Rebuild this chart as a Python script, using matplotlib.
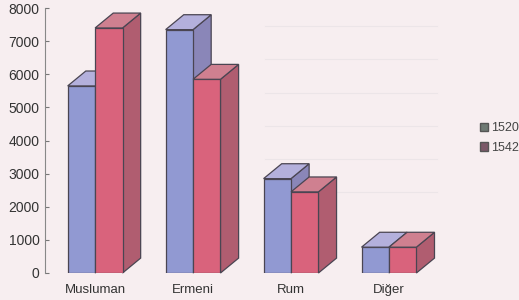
import matplotlib.pyplot as plt
from matplotlib.patches import Polygon, Patch
import numpy as np

# Nüfus verileri
kategoriler = ['Musluman', 'Ermeni', 'Rum', 'Diğer']
yil_1520 = [5650, 7350, 2850, 780]
yil_1542 = [7400, 5850, 2450, 780]
yillar = ['1520', '1542']

plt.rcParams['font.family'] = ['Liberation Sans', 'DejaVu Sans']

renk_on = {'1520': '#9199d2', '1542': '#d9637c'}
renk_ust = {'1520': '#b4b0dc', '1542': '#cf8090'}
renk_yan = {'1520': '#8a86b8', '1542': '#b05d70'}
kenar = '#4a4552'

fig = plt.figure(figsize=(5.19, 3.0), dpi=100, facecolor='#f7eef0')
ax = fig.add_axes([0.087, 0.09, 0.77, 0.883])
ax.set_facecolor('#f7eef0')

x = np.arange(len(kategoriler))
w = 0.28
dx = 0.185
dy = 450

def kutu(ax, x0, h, seri, z):
    # ön yüz
    ax.bar(x0, h, width=w, align='edge', color=renk_on[seri], edgecolor=kenar,
           linewidth=0.9, zorder=z)
    # üst yüz
    ust = Polygon([(x0, h), (x0 + w, h), (x0 + w + dx, h + dy), (x0 + dx, h + dy)],
                  closed=True, facecolor=renk_ust[seri], edgecolor=kenar,
                  linewidth=0.9, zorder=z, clip_on=False)
    ax.add_patch(ust)
    # yan yüz
    yan = Polygon([(x0 + w, 0), (x0 + w + dx, dy), (x0 + w + dx, h + dy), (x0 + w, h)],
                  closed=True, facecolor=renk_yan[seri], edgecolor=kenar,
                  linewidth=0.9, zorder=z - 0.5, clip_on=False)
    ax.add_patch(yan)

for i in range(len(kategoriler)):
    kutu(ax, x[i] - w, yil_1520[i], '1520', 3)
    kutu(ax, x[i], yil_1542[i], '1542', 5)

ax.set_xlim(-0.51, 3.57)
ax.set_ylim(0, 8000)
ax.set_yticks(np.arange(0, 8001, 1000))
ax.set_xticks(x)
ax.set_xticklabels(kategoriler, fontsize=9.5, color='#333333')
ax.tick_params(axis='x', length=0, pad=8)
ax.tick_params(axis='y', length=3, direction='in', color='#777777',
               labelsize=10, labelcolor='#333333', pad=4)

for s in ['top', 'right', 'bottom']:
    ax.spines[s].set_visible(False)
ax.spines['left'].set_color('#888888')
ax.spines['left'].set_linewidth(0.8)

# soluk arka duvar çizgileri
for yv in [2000, 3000, 4000, 5000, 6000, 7000]:
    ax.axhline(yv + dy, xmin=0.55, xmax=0.98, color='#ece5e8', linewidth=0.8, zorder=0)

tutamak = [Patch(facecolor='#6f7a74', edgecolor='#555555', label=yillar[0]),
           Patch(facecolor='#7b5868', edgecolor='#555555', label=yillar[1])]
fig.legend(handles=tutamak, loc='center left', bbox_to_anchor=(0.912, 0.54),
           frameon=False, fontsize=9, handlelength=0.7, handleheight=0.7,
           handletextpad=0.2, labelspacing=0.6, borderpad=0,
           labelcolor='#444444')

fig.savefig('out.png', dpi=100, facecolor=fig.get_facecolor())
